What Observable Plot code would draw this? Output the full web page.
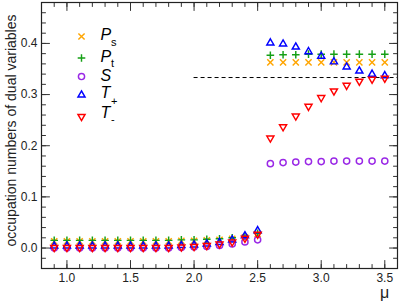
<!DOCTYPE html>
<html><head><meta charset="utf-8">
<script src="https://cdn.jsdelivr.net/npm/d3@7"></script>
<script src="https://cdn.jsdelivr.net/npm/@observablehq/plot@0.6"></script>
<style>body{margin:0;background:#fff;} #chart svg{display:block;}</style>
</head><body><div id="chart"></div>
<script>
// ---- data ----
const mu = [0.9,1.0,1.1,1.2,1.3,1.4,1.5,1.6,1.7,1.8,1.9,2.0,2.1,2.2,2.3,2.4,2.5,2.6,2.7,2.8,2.9,3.0,3.1,3.2,3.3,3.4,3.5];
const Ps = [0.013,0.013,0.013,0.013,0.013,0.013,0.013,0.013,0.013,0.013,0.014,0.014,0.015,0.016,0.018,0.021,0.027,
            0.363,0.363,0.363,0.363,0.363,0.363,0.363,0.363,0.363,0.363];
const Pt = [0.015,0.015,0.015,0.015,0.015,0.015,0.015,0.015,0.015,0.015,0.016,0.016,0.017,0.018,0.020,0.023,0.029,
            0.377,0.378,0.378,0.379,0.379,0.379,0.379,0.379,0.379,0.379];
const S  = [0.000,0.000,0.000,0.000,0.000,0.000,0.000,0.000,0.000,0.000,0.001,0.002,0.003,0.005,0.008,0.012,0.016,
            0.165,0.167,0.168,0.169,0.169,0.170,0.170,0.170,0.170,0.170];
const Tplus  = [0.004,0.004,0.004,0.004,0.004,0.004,0.004,0.004,0.004,0.004,0.005,0.006,0.008,0.011,0.016,0.024,0.034,
            0.401,0.399,0.393,0.384,0.375,0.364,0.354,0.346,0.340,0.337];
const Tminus = [0.001,0.001,0.001,0.001,0.001,0.001,0.001,0.001,0.001,0.001,0.002,0.003,0.005,0.008,0.012,0.019,0.027,
            0.215,0.237,0.258,0.277,0.294,0.307,0.318,0.326,0.330,0.332];
const dashLevel = [1/3];
const dashStart = 2.0;
const xMajor = [1.0,1.5,2.0,2.5,3.0,3.5];
const xMinor = [0.9,1.0,1.1,1.2,1.3,1.4,1.5,1.6,1.7,1.8,1.9,2.0,2.1,2.2,2.3,2.4,2.5,2.6,2.7,2.8,2.9,3.0,3.1,3.2,3.3,3.4,3.5];
const yMajor = [0.0,0.1,0.2,0.3,0.4];
const yMinor = [-0.02,0.0,0.02,0.04,0.06,0.08,0.1,0.12,0.14,0.16,0.18,0.2,0.22,0.24,0.26,0.28,0.3,0.32,0.34,0.36,0.38,0.4,0.42,0.44,0.46];
const xLabel = "μ";
const yLabel = "occupation numbers of dual variables";

// ---- symbols ----
const mk = (f) => ({draw(ctx, size){ const r = Math.sqrt(size/Math.PI); f(ctx, r); }});
const symTimes = mk((c,r)=>{c.moveTo(-r,-r);c.lineTo(r,r);c.moveTo(-r,r);c.lineTo(r,-r);});
const symPlus = mk((c,r)=>{c.moveTo(-r,0);c.lineTo(r,0);c.moveTo(0,-r);c.lineTo(0,r);});
const symCircle = mk((c,r)=>{c.moveTo(r,0);c.arc(0,0,r,0,2*Math.PI);});
const symTriUp = mk((c,R)=>{c.moveTo(0,-R);c.lineTo(R*0.866,R/2);c.lineTo(-R*0.866,R/2);c.closePath();});
const symTriDown = mk((c,R)=>{c.moveTo(0,R);c.lineTo(R*0.866,-R/2);c.lineTo(-R*0.866,-R/2);c.closePath();});

const series = [
  {name:"P", sub:"s", values:Ps, color:"#ffa500", symbol:symTimes, r:3.1, ly:34, ty:32, sy:40},
  {name:"P", sub:"t", values:Pt, color:"#16a016", symbol:symPlus, r:3.8, ly:55.5, ty:54, sy:61},
  {name:"S", sub:"", values:S, color:"#9a28e6", symbol:symCircle, r:3.1, ly:74, ty:73, sy:73},
  {name:"T", sub:"+", values:Tplus, color:"#0000ff", symbol:symTriUp, r:4.1, ly:92.5, ty:90, sy:98.5},
  {name:"T", sub:"-", values:Tminus, color:"#ff0000", symbol:symTriDown, r:4.1, ly:114, ty:110.5, sy:117}
];

const font = "'Liberation Sans', Arial, Helvetica, sans-serif";
const tickShape = {draw(ctx, l){ ctx.moveTo(0,0); ctx.lineTo(0,-l); }};
const tickStroke = "#333";

const marks = [];
// dashed reference line
marks.push(Plot.ruleY(dashLevel, {x1: dashStart, x2: 3.6, stroke:"#000", strokeWidth:1, strokeDasharray:"4,3"}));
// data
for (const s of series) {
  const rows = mu.map((m,i)=>({mu:m, v:s.values[i]}));
  marks.push(Plot.dot(rows, {x:"mu", y:"v", symbol:()=>s.symbol, r:s.r, stroke:s.color, fill:"none", strokeWidth:1.45}));
}
// legend
for (const s of series) {
  marks.push(Plot.dot([0], {frameAnchor:"top-left", dx:40, dy:s.ly, symbol:()=>s.symbol, r:s.r, stroke:s.color, fill:"none", strokeWidth:1.45}));
  marks.push(Plot.text([s.name], {frameAnchor:"top-left", dx:59, dy:s.ty, text:d=>d, textAnchor:"start", lineAnchor:"middle", fontSize:16, fontStyle:"italic", fill:"#000"}));
  if (s.sub) marks.push(Plot.text([s.sub], {frameAnchor:"top-left", dx:69.5, dy:s.sy, text:d=>d, textAnchor:"start", lineAnchor:"middle", fontSize:11, fill:"#000"}));
}
// ticks (inward, all four sides)
const tk = (vals, ch, anchor, rot, len) => Plot.vector(vals, {[ch]: d=>d, frameAnchor:anchor, length:len, rotate:rot, anchor:"start", shape:tickShape, stroke:tickStroke, strokeWidth:1});
marks.push(tk(xMinor,"x","bottom",0,4), tk(xMajor,"x","bottom",0,8));
marks.push(tk(xMinor,"x","top",180,4), tk(xMajor,"x","top",180,8));
marks.push(tk(yMinor,"y","left",90,4), tk(yMajor,"y","left",90,8));
marks.push(tk(yMinor,"y","right",270,4), tk(yMajor,"y","right",270,8));
// tick labels
marks.push(Plot.axisX(xMajor, {anchor:"bottom", tickSize:0, tickPadding:5, tickFormat:d3.format(".1f"), label:null, fontSize:12, fill:"#222"}));
marks.push(Plot.axisY(yMajor, {anchor:"left", tickSize:0, tickPadding:4, tickFormat:d3.format(".1f"), label:null, fontSize:12, fill:"#222"}));
// axis titles
marks.push(Plot.text([yLabel], {frameAnchor:"left", dx:-30, dy:-5, rotate:-90, text:d=>d, textAnchor:"middle", lineAnchor:"middle", fontSize:14, fill:"#222"}));
marks.push(Plot.text([xLabel], {frameAnchor:"bottom-right", dx:-13, dy:24, text:d=>d, textAnchor:"middle", lineAnchor:"middle", fontSize:16, fill:"#222"}));
marks.push(Plot.frame({stroke:"#222", strokeWidth:1.2}));

const chart = Plot.plot({
  width: 399, height: 302,
  marginLeft: 41, marginRight: 2, marginTop: 2, marginBottom: 34,
  x: {domain:[0.8, 3.6]},
  y: {domain:[-0.04, 0.48]},
  style: {fontFamily: font, background:"#fff", color:"#222"},
  marks
});
document.getElementById("chart").append(chart);
</script>
</body></html>
